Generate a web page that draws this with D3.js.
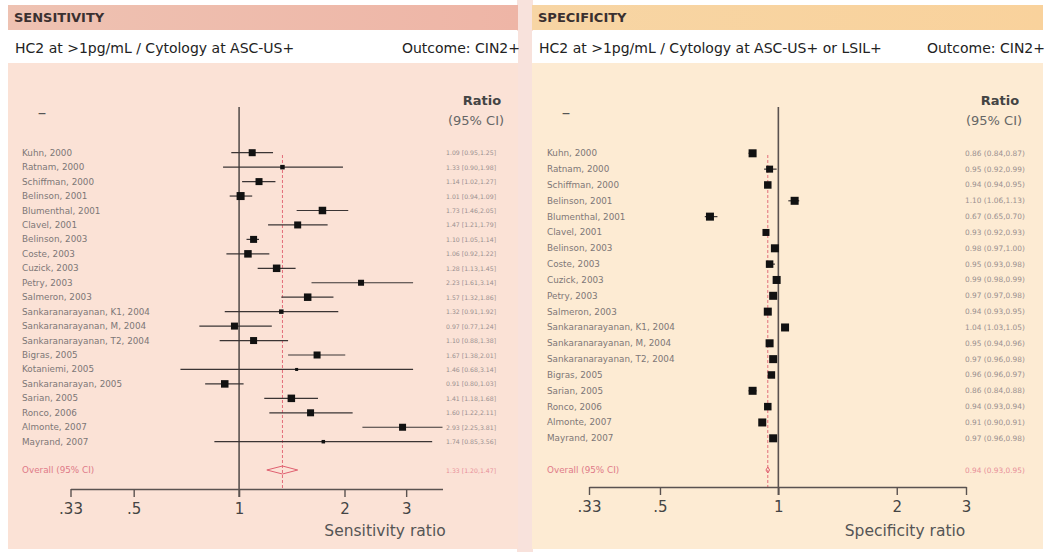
<!DOCTYPE html>
<html><head><meta charset="utf-8">
<script src="https://cdn.jsdelivr.net/npm/d3@7"></script>
<style>body{margin:0;background:#fff}</style>
</head><body>
<svg id="c" width="1047" height="552"></svg>
<script>
// ---------- DATA ----------
const sensStudies = ["Kuhn, 2000","Ratnam, 2000","Schiffman, 2000","Belinson, 2001","Blumenthal, 2001","Clavel, 2001","Belinson, 2003","Coste, 2003","Cuzick, 2003","Petry, 2003","Salmeron, 2003","Sankaranarayanan, K1, 2004","Sankaranarayanan, M, 2004","Sankaranarayanan, T2, 2004","Bigras, 2005","Kotaniemi, 2005","Sankaranarayan, 2005","Sarian, 2005","Ronco, 2006","Almonte, 2007","Mayrand, 2007"];
const sensRatio = [1.09,1.33,1.14,1.01,1.73,1.47,1.10,1.06,1.28,2.23,1.57,1.32,0.97,1.10,1.67,1.46,0.91,1.41,1.60,2.93,1.74];
const sensLo    = [0.95,0.90,1.02,0.94,1.46,1.21,1.05,0.92,1.13,1.61,1.32,0.91,0.77,0.88,1.38,0.68,0.80,1.18,1.22,2.25,0.85];
const sensHi    = [1.25,1.98,1.27,1.09,2.05,1.79,1.14,1.22,1.45,3.14,1.86,1.92,1.24,1.38,2.01,3.14,1.03,1.68,2.11,3.81,3.56];
const sensWeight = [7,4.5,7,8,7.5,7,7,7.5,7.5,6,7.5,4.5,7,7,7,3,7.5,7.5,7,7,3.5];
const sensOverall = [1.33,1.20,1.47];

const specStudies = ["Kuhn, 2000","Ratnam, 2000","Schiffman, 2000","Belinson, 2001","Blumenthal, 2001","Clavel, 2001","Belinson, 2003","Coste, 2003","Cuzick, 2003","Petry, 2003","Salmeron, 2003","Sankaranarayanan, K1, 2004","Sankaranarayanan, M, 2004","Sankaranarayanan, T2, 2004","Bigras, 2005","Sarian, 2005","Ronco, 2006","Almonte, 2007","Mayrand, 2007"];
const specRatio = [0.86,0.95,0.94,1.10,0.67,0.93,0.98,0.95,0.99,0.97,0.94,1.04,0.95,0.97,0.96,0.86,0.94,0.91,0.97];
const specLo    = [0.84,0.92,0.94,1.06,0.65,0.92,0.97,0.93,0.98,0.97,0.93,1.03,0.94,0.96,0.96,0.84,0.93,0.90,0.96];
const specHi    = [0.87,0.99,0.95,1.13,0.70,0.93,1.00,0.98,0.99,0.98,0.95,1.05,0.96,0.98,0.97,0.88,0.94,0.91,0.98];
const specWeight = [8,7,7.5,8,8,7,8,7.5,8,8,8,8,8,8,7.5,8,7.5,8,8];
const specOverall = [0.94,0.93,0.95];

const tickValues = [0.33,0.5,1,2,3];
const tickLabels = [".33",".5","1","2","3"];

// ---------- LAYOUT ----------
const svg = d3.select("#c");
const defs = svg.append("defs");
const g1 = defs.append("linearGradient").attr("id","hdrL").attr("x1","0").attr("x2","1");
g1.append("stop").attr("offset","0").attr("stop-color","#eec2b2");
g1.append("stop").attr("offset","1").attr("stop-color","#eeb5a6");
const g2 = defs.append("linearGradient").attr("id","hdrR").attr("x1","0").attr("x2","1");
g2.append("stop").attr("offset","0").attr("stop-color","#f7d5a4");
g2.append("stop").attr("offset","1").attr("stop-color","#f9d29c");

svg.append("rect").attr("x",517).attr("y",0).attr("width",16).attr("height",552).attr("fill","#f8e2dc");

const panels = [
  {x0:8, x1:518, hdr:"url(#hdrL)", body:"#fbe2d6", title:"SENSITIVITY",
   sub:"HC2 at >1pg/mL / Cytology at ASC-US+", studies:sensStudies, r:sensRatio, lo:sensLo, hi:sensHi, w:sensWeight, ov:sensOverall,
   dom:[0.33,3.81], rng:[70.5,442.5], yFirst:152.7, yLast:441.7, labX:22, valX:446, valSize:6.2, bra:["[","]"],
   ratioX:482, dashX:42, axisY:489, axTitle:"Sensitivity ratio", axTitleX:385, diamondH:4, vTop:107},
  {x0:532, x1:1043, hdr:"url(#hdrR)", body:"#fdebd3", title:"SPECIFICITY",
   sub:"HC2 at >1pg/mL / Cytology at ASC-US+ or LSIL+", studies:specStudies, r:specRatio, lo:specLo, hi:specHi, w:specWeight, ov:specOverall,
   dom:[0.33,3], rng:[589,966], yFirst:153.3, yLast:438.3, labX:547, valX:965, valSize:7.4, bra:["(",")"],
   ratioX:1000, dashX:566, axisY:487, axTitle:"Specificity ratio", axTitleX:905, diamondH:3, vTop:107}
];

const font = "DejaVu Sans";
const fmt = d3.format(".2f");

panels.forEach(p => {
  const g = svg.append("g");
  g.append("rect").attr("x",p.x0).attr("y",5).attr("width",p.x1-p.x0).attr("height",25).attr("fill",p.hdr);
  g.append("rect").attr("x",p.x0).attr("y",31).attr("width",p.x1-p.x0).attr("height",32).attr("fill","#ffffff");
  g.append("rect").attr("x",p.x0).attr("y",63).attr("width",p.x1-p.x0).attr("height",486).attr("fill",p.body);

  g.append("text").attr("x",p.x0+6).attr("y",22).attr("font-family",font).attr("font-weight","bold")
    .attr("font-size",13).attr("fill","#3a3030").text(p.title);
  g.append("text").attr("x",p.x0+7).attr("y",53).attr("font-family",font)
    .attr("font-size",14).attr("fill","#222").text(p.sub);
  g.append("text").attr("x",p.x1+2).attr("y",53).attr("font-family",font).attr("text-anchor","end")
    .attr("font-size",14).attr("fill","#222").text("Outcome: CIN2+");

  g.append("text").attr("x",p.ratioX).attr("y",105).attr("font-family",font).attr("font-weight","bold")
    .attr("text-anchor","middle").attr("font-size",13).attr("fill","#444").text("Ratio");
  g.append("text").attr("x",p.ratioX-6).attr("y",125).attr("font-family",font)
    .attr("text-anchor","middle").attr("font-size",13).attr("fill","#666").text("(95% CI)");
  g.append("text").attr("x",p.dashX).attr("y",118).attr("font-family",font)
    .attr("text-anchor","middle").attr("font-size",17).attr("fill","#555").text("–");

  const x = d3.scaleLog().domain(p.dom).range(p.rng);
  const y = d3.scaleLinear().domain([0,p.studies.length-1]).range([p.yFirst,p.yLast]);
  const yOv = 470;
  const idx = d3.range(p.studies.length);

  g.append("line").attr("x1",x(1)).attr("x2",x(1)).attr("y1",p.vTop).attr("y2",p.axisY+8)
    .attr("stroke","#5a5250").attr("stroke-width",1.6);
  g.append("line").attr("x1",x(p.ov[0])).attr("x2",x(p.ov[0])).attr("y1",155).attr("y2",p.axisY)
    .attr("stroke","#e06070").attr("stroke-width",0.9).attr("stroke-dasharray","3,2");

  g.selectAll(".lab").data(idx).enter().append("text")
    .attr("x",p.labX).attr("y",i=>y(i)+3).attr("font-family",font).attr("font-size",8.8)
    .attr("fill","#7d7777").text(i=>p.studies[i]);
  g.selectAll(".val").data(idx).enter().append("text")
    .attr("x",p.valX).attr("y",i=>y(i)+2.5).attr("font-family",font).attr("font-size",p.valSize)
    .attr("fill","#9a9090").text(i=>fmt(p.r[i])+" "+p.bra[0]+fmt(p.lo[i])+","+fmt(p.hi[i])+p.bra[1]);

  g.selectAll(".ci").data(idx).enter().append("line")
    .attr("x1",i=>x(p.lo[i])).attr("x2",i=>x(p.hi[i])).attr("y1",i=>y(i)).attr("y2",i=>y(i))
    .attr("stroke","#3a3434").attr("stroke-width",1.2);
  g.selectAll(".pt").data(idx).enter().append("rect")
    .attr("x",i=>x(p.r[i])-p.w[i]/2).attr("y",i=>y(i)-p.w[i]/2)
    .attr("width",i=>p.w[i]).attr("height",i=>p.w[i]).attr("fill","#111");

  g.append("text").attr("x",p.labX).attr("y",yOv+3).attr("font-family",font).attr("font-size",8.8)
    .attr("fill","#e07a88").text("Overall (95% CI)");
  g.append("text").attr("x",p.valX).attr("y",yOv+2.5).attr("font-family",font).attr("font-size",p.valSize)
    .attr("fill","#e8909a").text(fmt(p.ov[0])+" "+p.bra[0]+fmt(p.ov[1])+","+fmt(p.ov[2])+p.bra[1]);
  const dp = [[x(p.ov[1]),yOv],[x(p.ov[0]),yOv-p.diamondH],[x(p.ov[2]),yOv],[x(p.ov[0]),yOv+p.diamondH]];
  g.append("path").attr("d",d3.line()(dp)+"Z").attr("fill","none").attr("stroke","#e06070").attr("stroke-width",1);

  const ax = g.append("g").attr("transform",`translate(0,${p.axisY})`)
    .call(d3.axisBottom(x).tickValues(tickValues).tickFormat((d,i)=>tickLabels[i]).tickSize(8).tickSizeOuter(0));
  ax.select(".domain").attr("stroke","#5a5250").attr("stroke-width",1.4);
  ax.selectAll(".tick line").attr("stroke","#5a5250").attr("stroke-width",1.4);
  ax.selectAll(".tick text").attr("font-family",font).attr("font-size",15).attr("fill","#444").attr("dy","0.9em");

  g.append("text").attr("x",p.axTitleX).attr("y",536).attr("font-family",font).attr("text-anchor","middle")
    .attr("font-size",15.5).attr("fill","#555").text(p.axTitle);
});
</script>
</body></html>
